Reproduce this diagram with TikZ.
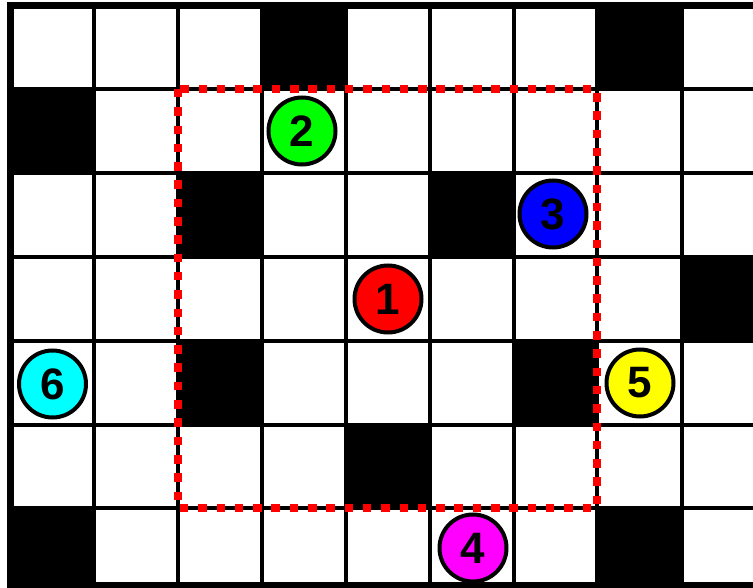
\documentclass[tikz,border=0pt]{standalone}
\usepackage{fontspec}
\setmainfont{Liberation Sans}
\definecolor{mkred}{RGB}{255,0,0}
\definecolor{mkgreen}{RGB}{0,255,0}
\definecolor{mkblue}{RGB}{0,0,255}
\definecolor{mkmagenta}{RGB}{255,0,255}
\definecolor{mkyellow}{RGB}{255,255,0}
\definecolor{mkcyan}{RGB}{0,255,255}
\begin{document}
\begin{tikzpicture}[x=1pt,y=-1pt,
  cellfill/.style={fill=black},
  gridline/.style={line width=3.8pt,black},
  borderline/.style={line width=7pt,black},
  zone/.style={mkred,line width=8.5pt,dash pattern=on 8.5pt off 9.8pt},
  marker/.style={circle,draw=black,line width=4pt,minimum size=67pt,inner sep=0pt,
    font=\fontsize{44}{44}\selectfont\bfseries,text=black}]
\useasboundingbox (0,0) rectangle (753,588);
\fill[white] (0,0) rectangle (753,588);
% black cells
\fill[cellfill] (262,5.5) rectangle (346,89);
\fill[cellfill] (597,5.5) rectangle (682,89);
\fill[cellfill] (10.5,89) rectangle (94,173);
\fill[cellfill] (178,173) rectangle (262,257);
\fill[cellfill] (430,173) rectangle (514,257);
\fill[cellfill] (682,257) rectangle (760,341);
\fill[cellfill] (178,341) rectangle (262,425);
\fill[cellfill] (514,341) rectangle (597,425);
\fill[cellfill] (346,425) rectangle (430,508);
\fill[cellfill] (10.5,508) rectangle (94,585);
\fill[cellfill] (597,508) rectangle (682,585);
% inner grid lines
\foreach \gx in {94,178,262,346,430,514,597,682}
  \draw[gridline] (\gx,5.5) -- (\gx,585);
\foreach \gy in {89,173,257,341,425,508}
  \draw[gridline] (10.5,\gy) -- (760,\gy);
% border
\draw[borderline] (760,5.5) -- (10.5,5.5) -- (10.5,585) -- (760,585);
% red zone
\draw[zone] (178,89) rectangle (597,508);
% markers
\node[marker,fill=mkred] (m1) at (388,299) {1};
\node[marker,fill=mkgreen] (m2) at (302,131) {2};
\node[marker,fill=mkblue] (m3) at (553,214) {3};
\node[marker,fill=mkmagenta] (m4) at (473,548) {4};
\node[marker,fill=mkyellow] (m5) at (640,383) {5};
\node[marker,fill=mkcyan] (m6) at (52.5,384) {6};
\end{tikzpicture}
\end{document}
